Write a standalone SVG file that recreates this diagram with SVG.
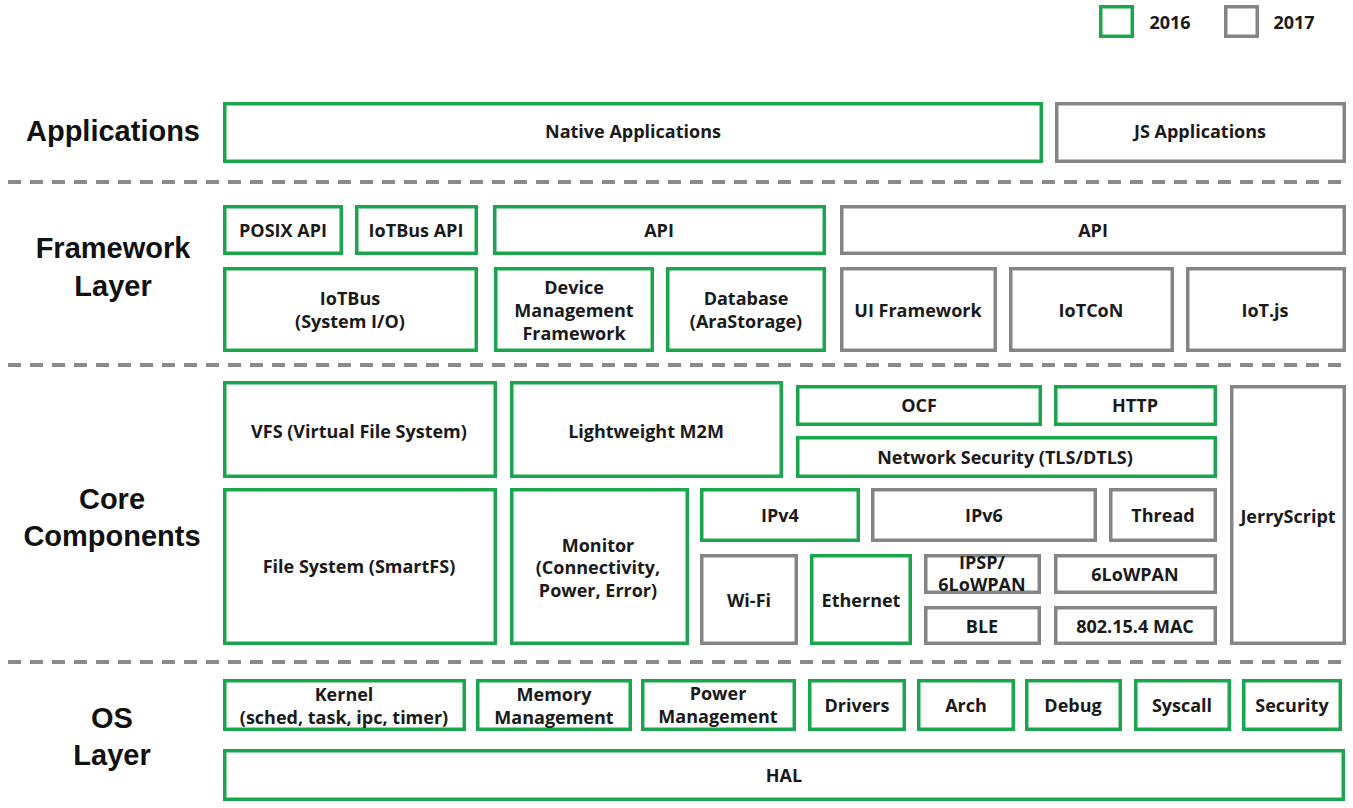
<svg xmlns="http://www.w3.org/2000/svg" width="1353" height="808" viewBox="0 0 1353 808">
<style>
rect.g{fill:#fff;stroke:#1aa64c;stroke-width:3.5}
rect.y{fill:#fff;stroke:#858585;stroke-width:3.5}
text{font-family:"Open Sans","Noto Sans",sans-serif;font-weight:700;font-size:18px;fill:#1a1a1a;text-anchor:middle}
text.lbl{font-family:"Liberation Sans",Arial,sans-serif;font-weight:700;font-size:29px;fill:#111}
line.d{stroke:#8a8a8a;stroke-width:4;stroke-dasharray:13 9}
</style>
<rect width="1353" height="808" fill="#fff"/>
<g id="legend">
<rect class="g" x="1100.75" y="6.75" width="31.5" height="29.5"/>
<text x="1170" y="29">2016</text>
<rect class="y" x="1225.75" y="6.75" width="31.5" height="29.5"/>
<text x="1294" y="29">2017</text>
</g>
<g id="connectors">
<line class="d" x1="8" y1="182" x2="1346" y2="182"/>
<line class="d" x1="8" y1="365" x2="1346" y2="365"/>
<line class="d" x1="8" y1="662" x2="1346" y2="662"/>
</g>
<g id="labels">
<text class="lbl" x="113" y="141">Applications</text>
<text class="lbl" x="113" y="258">Framework</text>
<text class="lbl" x="113" y="296">Layer</text>
<text class="lbl" x="112" y="509">Core</text>
<text class="lbl" x="112" y="546">Components</text>
<text class="lbl" x="112" y="728">OS</text>
<text class="lbl" x="112" y="765">Layer</text>
</g>
<g id="native-applications"><rect class="g" x="224.75" y="103.75" width="816.5" height="57.5"/><text x="633" y="138">Native Applications</text></g>
<g id="js-applications"><rect class="y" x="1056.75" y="103.75" width="287.5" height="57.5"/><text x="1200" y="138">JS Applications</text></g>

<g id="posix-api"><rect class="g" x="224.75" y="206.75" width="116.5" height="46.5"/><text x="283" y="237">POSIX API</text></g>
<g id="iotbus-api"><rect class="g" x="356.75" y="206.75" width="119.5" height="46.5"/><text x="416" y="237">IoTBus API</text></g>
<g id="api-2016"><rect class="g" x="494.75" y="206.75" width="329.5" height="46.5"/><text x="659" y="237">API</text></g>
<g id="api-2017"><rect class="y" x="841.75" y="206.75" width="502.5" height="46.5"/><text x="1093" y="237">API</text></g>

<g id="iotbus"><rect class="g" x="224.75" y="268.75" width="251.5" height="81.5"/><text x="350" y="305">IoTBus</text><text x="350" y="328">(System I/O)</text></g>
<g id="device-management"><rect class="g" x="495.75" y="268.75" width="156.5" height="81.5"/><text x="574" y="294">Device</text><text x="574" y="317">Management</text><text x="574" y="340">Framework</text></g>
<g id="database"><rect class="g" x="667.75" y="268.75" width="156.5" height="81.5"/><text x="746" y="305">Database</text><text x="746" y="328">(AraStorage)</text></g>
<g id="ui-framework"><rect class="y" x="841.75" y="268.75" width="153.5" height="81.5"/><text x="918" y="317">UI Framework</text></g>
<g id="iotcon"><rect class="y" x="1010.75" y="268.75" width="161.5" height="81.5"/><text x="1091" y="317">IoTCoN</text></g>
<g id="iotjs"><rect class="y" x="1187.75" y="268.75" width="156.5" height="81.5"/><text x="1265" y="317">IoT.js</text></g>

<g id="vfs"><rect class="g" x="224.75" y="382.75" width="270.5" height="93.5"/><text x="359" y="438">VFS (Virtual File System)</text></g>
<g id="lwm2m"><rect class="g" x="511.75" y="382.75" width="269.5" height="93.5"/><text x="646" y="438">Lightweight M2M</text></g>
<g id="ocf"><rect class="g" x="797.75" y="386.75" width="242.5" height="37.5"/><text x="919" y="412">OCF</text></g>
<g id="http"><rect class="g" x="1055.75" y="386.75" width="159.5" height="37.5"/><text x="1135" y="412">HTTP</text></g>
<g id="network-security"><rect class="g" x="797.75" y="437.75" width="417.5" height="38.5"/><text x="1005" y="464">Network Security (TLS/DTLS)</text></g>
<g id="jerryscript"><rect class="y" x="1231.75" y="386.75" width="112.5" height="256.5"/><text x="1288" y="523">JerryScript</text></g>

<g id="file-system"><rect class="g" x="224.75" y="489.75" width="270.5" height="153.5"/><text x="359" y="573">File System (SmartFS)</text></g>
<g id="monitor"><rect class="g" x="511.75" y="489.75" width="175.5" height="153.5"/><text x="598" y="552">Monitor</text><text x="598" y="574">(Connectivity,</text><text x="598" y="597">Power, Error)</text></g>
<g id="ipv4"><rect class="g" x="701.75" y="489.75" width="156.5" height="50.5"/><text x="780" y="522">IPv4</text></g>
<g id="ipv6"><rect class="y" x="872.75" y="489.75" width="222.5" height="50.5"/><text x="984" y="522">IPv6</text></g>
<g id="thread"><rect class="y" x="1110.75" y="489.75" width="104.5" height="50.5"/><text x="1163" y="522">Thread</text></g>

<g id="wifi"><rect class="y" x="701.75" y="555.75" width="94.5" height="87.5"/><text x="749" y="607">Wi-Fi</text></g>
<g id="ethernet"><rect class="g" x="811.75" y="555.75" width="98.5" height="87.5"/><text x="861" y="607">Ethernet</text></g>
<g id="ipsp"><rect class="y" x="925.75" y="555.75" width="113.5" height="36.5"/><text x="982" y="569">IPSP/</text><text x="982" y="591">6LoWPAN</text></g>
<g id="6lowpan"><rect class="y" x="1055.75" y="555.75" width="159.5" height="36.5"/><text x="1135" y="581">6LoWPAN</text></g>
<g id="ble"><rect class="y" x="925.75" y="607.75" width="113.5" height="35.5"/><text x="982" y="633">BLE</text></g>
<g id="mac"><rect class="y" x="1055.75" y="607.75" width="159.5" height="35.5"/><text x="1135" y="633">802.15.4 MAC</text></g>

<g id="kernel"><rect class="g" x="224.75" y="680.75" width="239.5" height="48.5"/><text x="344" y="701">Kernel</text><text x="344" y="724">(sched, task, ipc, timer)</text></g>
<g id="memory"><rect class="g" x="477.75" y="680.75" width="152.5" height="48.5"/><text x="554" y="701">Memory</text><text x="554" y="724">Management</text></g>
<g id="power"><rect class="g" x="642.75" y="680.75" width="151.5" height="48.5"/><text x="718" y="700">Power</text><text x="718" y="723">Management</text></g>
<g id="drivers"><rect class="g" x="809.75" y="680.75" width="94.5" height="48.5"/><text x="857" y="712">Drivers</text></g>
<g id="arch"><rect class="g" x="918.75" y="680.75" width="94.5" height="48.5"/><text x="966" y="712">Arch</text></g>
<g id="debug"><rect class="g" x="1026.75" y="680.75" width="93.5" height="48.5"/><text x="1073" y="712">Debug</text></g>
<g id="syscall"><rect class="g" x="1135.75" y="680.75" width="93.5" height="48.5"/><text x="1182" y="712">Syscall</text></g>
<g id="security"><rect class="g" x="1243.75" y="680.75" width="96.5" height="48.5"/><text x="1292" y="712">Security</text></g>
<g id="hal"><rect class="g" x="224.75" y="750.75" width="1118.5" height="48.5"/><text x="784" y="782">HAL</text></g>
</svg>
